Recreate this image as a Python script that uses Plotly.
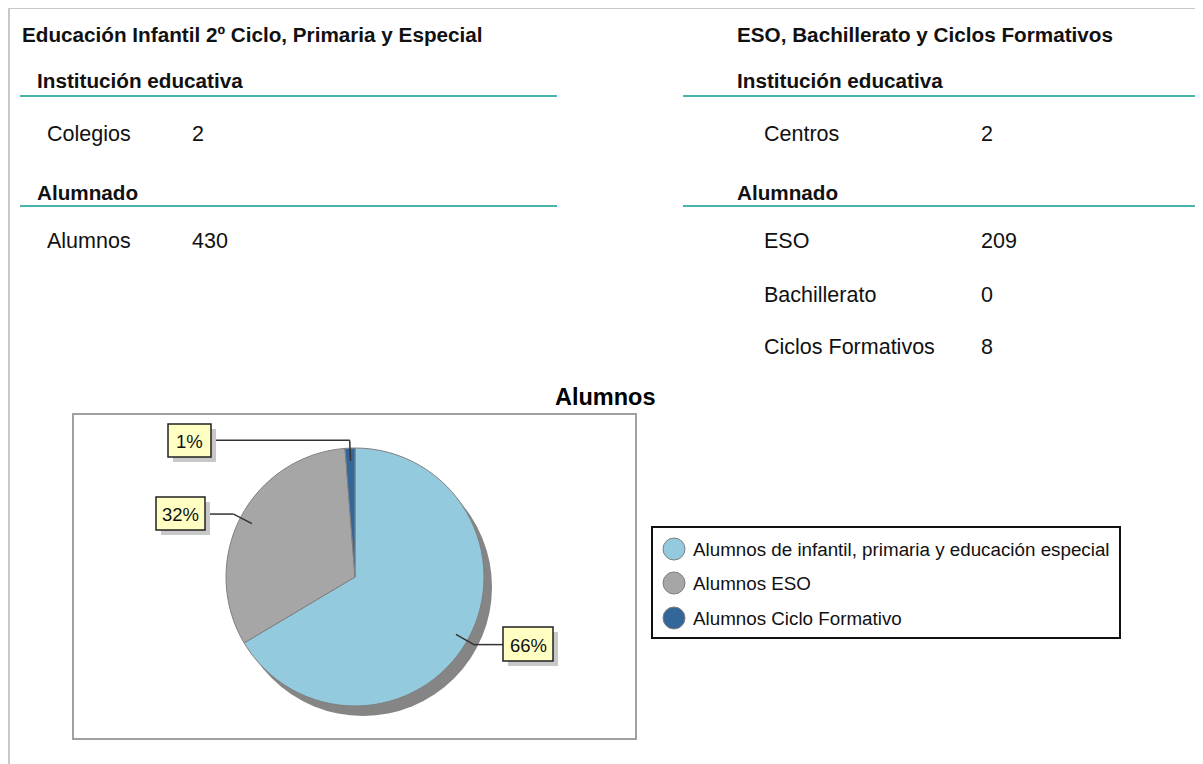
import math
import plotly.graph_objects as go

# ---------------- data ----------------
left_title = "Educación Infantil 2º Ciclo, Primaria y Especial"
right_title = "ESO, Bachillerato y Ciclos Formativos"
section_inst = "Institución educativa"
section_alum = "Alumnado"

left_inst_labels = ["Colegios"]
left_inst_values = [2]
left_alum_labels = ["Alumnos"]
left_alum_values = [430]

right_inst_labels = ["Centros"]
right_inst_values = [2]
right_alum_labels = ["ESO", "Bachillerato", "Ciclos Formativos"]
right_alum_values = [209, 0, 8]

chart_title = "Alumnos"
pie_labels = ["Alumnos de infantil, primaria y educación especial",
              "Alumnos ESO",
              "Alumnos Ciclo Formativo"]
pie_values = [430, 209, 8]
pie_colors = ["#93CADD", "#A6A6A6", "#336699"]

# ---------------- layout helpers ----------------
OFF = 8                      # page body margin
W, H = 1203 - OFF, 764 - OFF  # figure size


def X(px):
    return (px - OFF) / W


def Y(py):
    return 1 - (py - OFF) / H


FONT = "Liberation Sans, Arial, sans-serif"
annotations = []
shapes = []


def text(s, x, y, size=20, bold=False, anchor="left", color="#111111"):
    if anchor == "left":
        x -= 2  # compensate annotation padding
    annotations.append(dict(
        text=f"<b>{s}</b>" if bold else s, x=X(x), y=Y(y), xref="paper", yref="paper",
        xanchor=anchor, yanchor="middle", showarrow=False,
        font=dict(family=FONT, size=size, color=color)))


def line(x0, y0, x1, y1, color, width, layer="above"):
    shapes.append(dict(type="line", xref="paper", yref="paper",
                       x0=X(x0), y0=Y(y0), x1=X(x1), y1=Y(y1),
                       line=dict(color=color, width=width), layer=layer))


def rect(x0, y0, x1, y1, fill=None, color=None, width=0, layer="above"):
    d = dict(type="rect", xref="paper", yref="paper",
             x0=X(x0), y0=Y(y0), x1=X(x1), y1=Y(y1), layer=layer,
             line=dict(color=color or "rgba(0,0,0,0)", width=width))
    if fill:
        d["fillcolor"] = fill
    shapes.append(d)


# page border
line(9, 8, 1210, 8, "#C8C8C8", 2, "below")
line(9, 8, 9, 780, "#C8C8C8", 2, "below")

TEAL = "#49B3AE"
BODY = 21.5
HEAD = 20.7

# ----- left column -----
text(left_title, 22, 35, HEAD, bold=True)
text(section_inst, 37, 80, HEAD, bold=True)
line(20, 96, 557, 96, TEAL, 2)
for lab, val, yy in zip(left_inst_labels, left_inst_values, [134]):
    text(lab, 47, yy, BODY)
    text(str(val), 192, yy, BODY)
text(section_alum, 37, 193, HEAD, bold=True)
line(20, 206, 557, 206, TEAL, 2)
for lab, val, yy in zip(left_alum_labels, left_alum_values, [241]):
    text(lab, 47, yy, BODY)
    text(str(val), 192, yy, BODY)

# ----- right column -----
text(right_title, 737, 35, HEAD, bold=True)
text(section_inst, 737, 80, HEAD, bold=True)
line(683, 96, 1198, 96, TEAL, 2)
for lab, val, yy in zip(right_inst_labels, right_inst_values, [134]):
    text(lab, 764, yy, BODY)
    text(str(val), 981, yy, BODY)
text(section_alum, 737, 193, HEAD, bold=True)
line(683, 206, 1198, 206, TEAL, 2)
for lab, val, yy in zip(right_alum_labels, right_alum_values, [241, 295, 347]):
    text(lab, 764, yy, BODY)
    text(str(val), 981, yy, BODY)

# ----- chart -----
text(chart_title, 606, 397, 23.5, bold=True, anchor="center", color="#000000")
rect(73, 414, 636, 739, fill="white", color="#A0A0A0", width=2, layer="below")

CX, CY, R = 355, 577, 129
# pie shadow
shapes.append(dict(type="circle", xref="paper", yref="paper",
                   x0=X(CX - R + 8), x1=X(CX + R + 8), y0=Y(CY + R + 10), y1=Y(CY - R + 10),
                   fillcolor="#858585", line=dict(width=0), layer="below"))

pie = go.Pie(labels=pie_labels, values=pie_values, sort=False, direction="clockwise",
             rotation=0, textinfo="none", hoverinfo="label+percent",
             marker=dict(colors=pie_colors, line=dict(color="#808080", width=1)),
             domain=dict(x=[X(CX - R), X(CX + R)], y=[Y(CY + R), Y(CY - R)]),
             showlegend=False)

# percentage labels with leader lines (angles from the data)
box_pos = [  # (x0, y0, x1, y1) of each label box, layout only
    (503, 627, 553, 661),
    (156, 497, 205, 530),
    (168, 424, 211, 457),
]
total = sum(pie_values)
cum = 0
for v, (bx0, by0, bx1, by1) in zip(pie_values, box_pos):
    mid = (cum + v / 2) / total * 2 * math.pi
    cum += v
    sx, sy = math.sin(mid), -math.cos(mid)
    ax, ay = CX + 0.9 * R * sx, CY + 0.9 * R * sy
    ex, ey = CX + 1.06 * R * sx, CY + 1.06 * R * sy
    edge = bx0 if bx0 > ex else bx1
    line(ax, ay, ex, ey, "#333333", 1.5)
    line(ex, ey, edge, ey, "#333333", 1.5)
    rect(bx0 + 5, by0 + 5, bx1 + 5, by1 + 5, fill="#C8C8C8")
    rect(bx0, by0, bx1, by1, fill="#FFFFC4", color="#222222", width=1.5)
    pct = round(v / total * 100)
    text(f"{pct}%", (bx0 + bx1) / 2, (by0 + by1) / 2 + 1, 18.5, anchor="center", color="#111111")

# ----- legend (manual, circle markers) -----
rect(652, 527, 1120, 638, fill="white", color="#111111", width=2)
for lab, col, yy in zip(pie_labels, pie_colors, [549, 583, 618]):
    shapes.append(dict(type="circle", xref="paper", yref="paper",
                       x0=X(663), x1=X(685), y0=Y(yy + 11), y1=Y(yy - 11),
                       fillcolor=col, line=dict(color="#7F7F7F", width=1)))
    text(lab, 693, yy, 18.8, color="#111111")

fig = go.Figure(pie)
fig.update_layout(width=W, height=H, margin=dict(l=0, r=0, t=0, b=0),
                  paper_bgcolor="white", plot_bgcolor="white",
                  annotations=annotations, shapes=shapes, showlegend=False)
fig.write_html("out.html")
